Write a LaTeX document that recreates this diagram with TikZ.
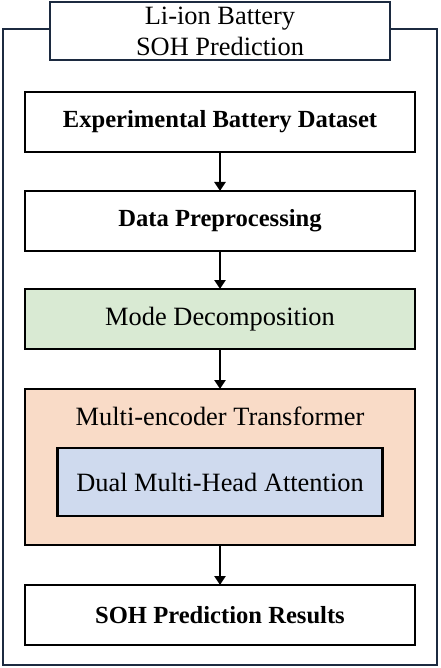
\documentclass[tikz,border=0pt]{standalone}
\usepackage{fontspec}
\setmainfont{Liberation Serif}
\usetikzlibrary{positioning, arrows.meta}

\definecolor{framenavy}{HTML}{1C2A40}
\definecolor{modegreen}{HTML}{D9EAD3}
\definecolor{encoderpeach}{HTML}{F9DBC7}
\definecolor{attnblue}{HTML}{CFDAEE}

\begin{document}
\begin{tikzpicture}[x=1pt, y=1pt,
			stage/.style={rectangle, draw=black, fill=white, line width=2.2pt, outer sep=0pt, inner sep=0pt, minimum width=390pt, minimum height=60pt, font=\fontsize{26.4}{31}\selectfont},
			boldstage/.style={stage, font=\fontsize{24.6}{31}\selectfont\bfseries},
			titlebox/.style={rectangle, draw=framenavy, fill=white, line width=2.6pt, outer sep=0pt, inner sep=0pt, minimum width=340pt, minimum height=58pt, align=center, font=\fontsize{26.4}{31}\selectfont},
			flow/.style={-{Triangle[width=11pt, length=9pt]}, line width=2.4pt, draw=black}
			]
			\useasboundingbox (0,0) rectangle (440,-668);
			% outer frame
			\draw[framenavy, line width=2.6pt] (3,-29) rectangle (437,-665);
			
			\node[titlebox] (title) at (220,-31) {Li-ion Battery\\SOH Prediction};
			\node[boldstage] (dataset) [below=32pt of title] {Experimental Battery Dataset};
			\node[boldstage] (preproc) [below=39pt of dataset] {Data Preprocessing};
			\node[stage, fill=modegreen] (decomp) [below=38pt of preproc] {Mode Decomposition};
			\node[stage, fill=encoderpeach, minimum height=156pt] (encoder) [below=40pt of decomp] {};
			\node[font=\fontsize{26.4}{31}\selectfont, inner sep=0pt] (encodertitle) [below=27pt of encoder.north, anchor=center] {Multi-encoder Transformer};
			\node[stage, fill=attnblue, minimum width=325pt, minimum height=68pt] (attention) [below=59pt of encoder.north] {Dual Multi-Head Attention};
			\node[boldstage] (results) [below=40pt of encoder] {SOH Prediction Results};
			
			\draw[flow] (dataset) -- (preproc);
			\draw[flow] (preproc) -- (decomp);
			\draw[flow] (decomp) -- (encoder);
			\draw[flow] (encoder) -- (results);
		\end{tikzpicture}
\end{document}
